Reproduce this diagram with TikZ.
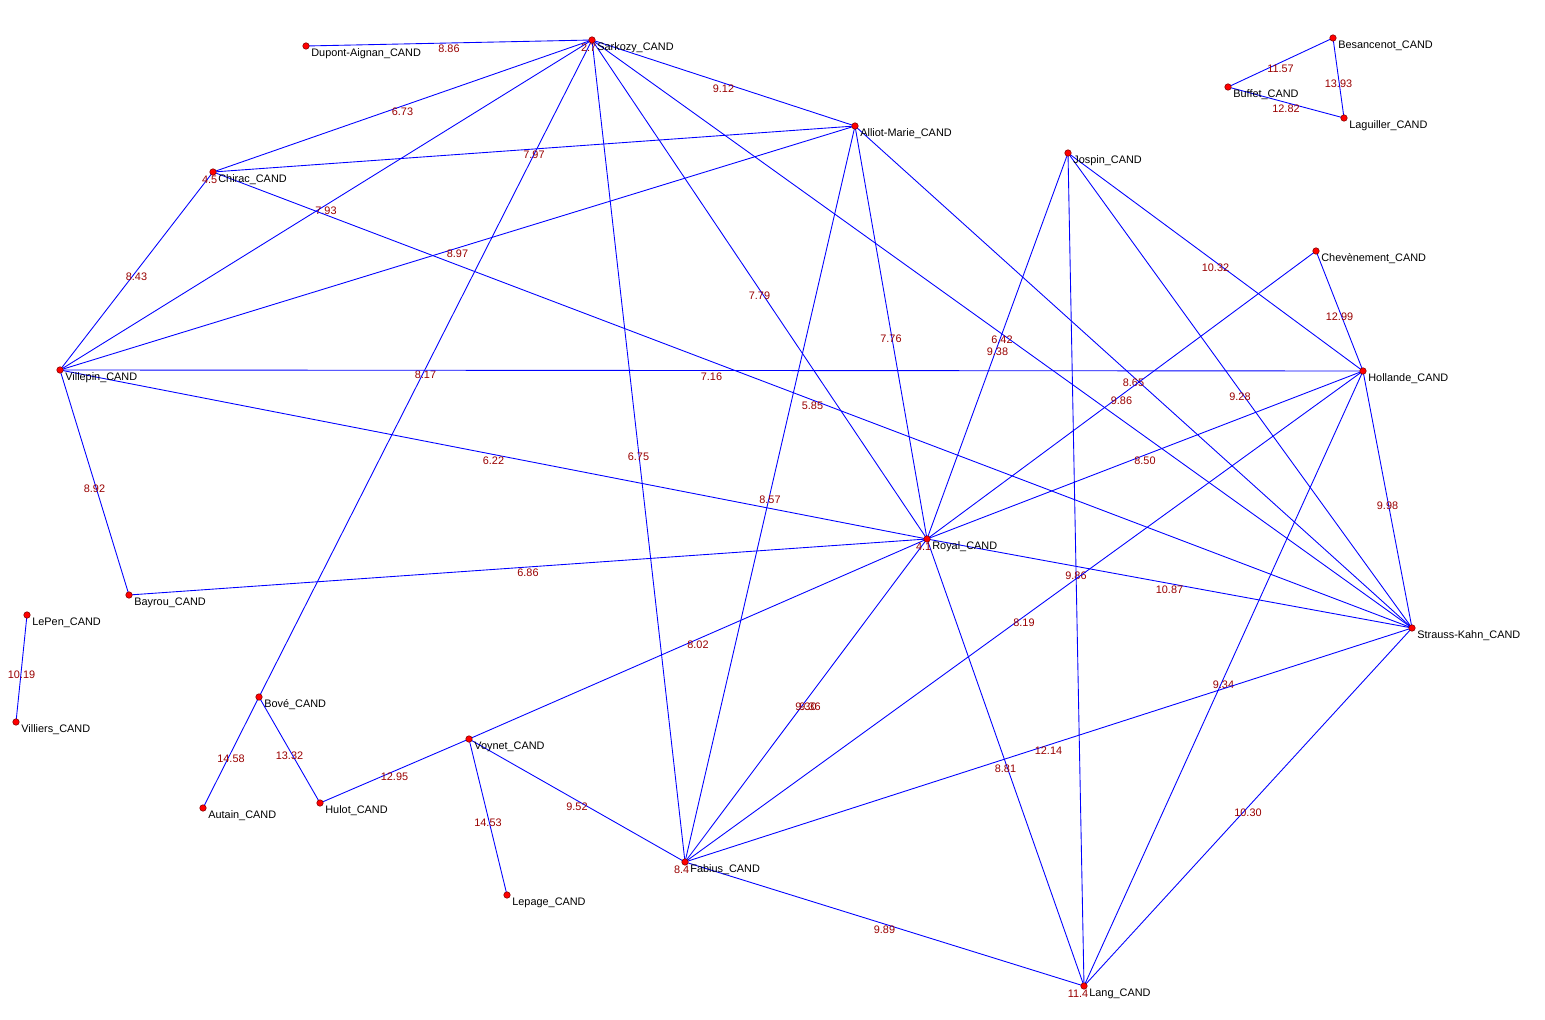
\documentclass[tikz,border=0pt]{standalone}
\usepackage{fontspec}
\setmainfont{Liberation Sans}
\begin{document}
\begin{tikzpicture}[x=0.02cm,y=-0.02cm,
  edge/.style={draw=blue,line width=0.5pt},
  elab/.style={text=red!60!black,font=\fontsize{6.2}{7}\selectfont,inner sep=0pt,yshift=-0.12cm},
  vname/.style={font=\fontsize{6.2}{7}\selectfont,inner sep=0pt,anchor=west},
  vnum/.style={font=\fontsize{6.2}{7}\selectfont,inner sep=0pt,anchor=east,text=red!60!black},
  vdot/.style={circle,fill=red,draw=red!50!black,line width=0.3pt,inner sep=0pt,minimum size=0.13cm}]
\fill[white] (0,0) rectangle (1545,1020);
\useasboundingbox (0,0) rectangle (1545,1020);
\foreach \n/\x/\y in {Sarkozy/592/40,Dupont-Aignan/306/46,Alliot-Marie/855/126,Chirac/213/172,Jospin/1068/153,Besancenot/1333/38,Buffet/1228/87,Laguiller/1344/118,Chevènement/1316/251,Villepin/60/370,Hollande/1363/371,Royal/927/539,Bayrou/129/595,Strauss-Kahn/1412/628,LePen/27/615,Villiers/16/722,Bové/259/697,Voynet/469/739,Autain/203/808,Hulot/320/803,Lepage/507/895,Fabius/685/862,Lang/1084/986}
  \coordinate (\n) at (\x,\y);
\foreach \a/\b/\l in {Dupont-Aignan/Sarkozy/8.86,Sarkozy/Chirac/6.73,Sarkozy/Alliot-Marie/9.12,Sarkozy/Villepin/7.93,Sarkozy/Bové/8.17,Chirac/Alliot-Marie/7.97,Sarkozy/Fabius/6.75,Sarkozy/Royal/7.79,Sarkozy/Strauss-Kahn/6.42,Chirac/Villepin/8.43,Chirac/Strauss-Kahn/5.85,Villepin/Alliot-Marie/8.97,Villepin/Hollande/7.16,Villepin/Royal/6.22,Villepin/Bayrou/8.92,Bayrou/Royal/6.86,Alliot-Marie/Royal/7.76,Alliot-Marie/Fabius/8.57,Alliot-Marie/Strauss-Kahn/8.65,Chevènement/Royal/9.86,Jospin/Royal/9.38,Jospin/Hollande/10.32,Jospin/Strauss-Kahn/9.28,Jospin/Lang/9.86,Chevènement/Hollande/12.99,Hollande/Royal/8.50,Hollande/Strauss-Kahn/9.98,Hollande/Fabius/8.19,Hollande/Lang/9.34,Royal/Strauss-Kahn/10.87,Royal/Voynet/8.02,Royal/Lang/8.81,Strauss-Kahn/Fabius/12.14,Strauss-Kahn/Lang/10.30,Fabius/Lang/9.89,Fabius/Voynet/9.52,Voynet/Hulot/12.95,Voynet/Lepage/14.53,Bové/Hulot/13.32,Bové/Autain/14.58,LePen/Villiers/10.19,Besancenot/Buffet/11.57,Besancenot/Laguiller/13.93,Buffet/Laguiller/12.82}
  \draw[edge] (\a) -- (\b) node[midway,elab,fill=white,fill opacity=0,text opacity=1] {\l};
\draw[edge] (Royal) -- (Fabius) node[midway,elab] {9.30} node[midway,elab,xshift=0.08cm] {9.36};
\foreach \n in {Sarkozy,Dupont-Aignan,Alliot-Marie,Chirac,Jospin,Besancenot,Buffet,Laguiller,Chevènement,Villepin,Hollande,Royal,Bayrou,Strauss-Kahn,LePen,Villiers,Bové,Voynet,Autain,Hulot,Lepage,Fabius,Lang}{
  \node[vdot] at (\n) {};
  \node[vname] at ([xshift=0.1cm,yshift=-0.15cm]\n) {\n\_CAND};
}
\foreach \n/\v in {Sarkozy/2.7,Chirac/4.5,Royal/4.1,Fabius/8.4,Lang/11.4}
  \node[vnum] at ([xshift=0.09cm,yshift=-0.15cm]\n) {\v};
\end{tikzpicture}
\end{document}
